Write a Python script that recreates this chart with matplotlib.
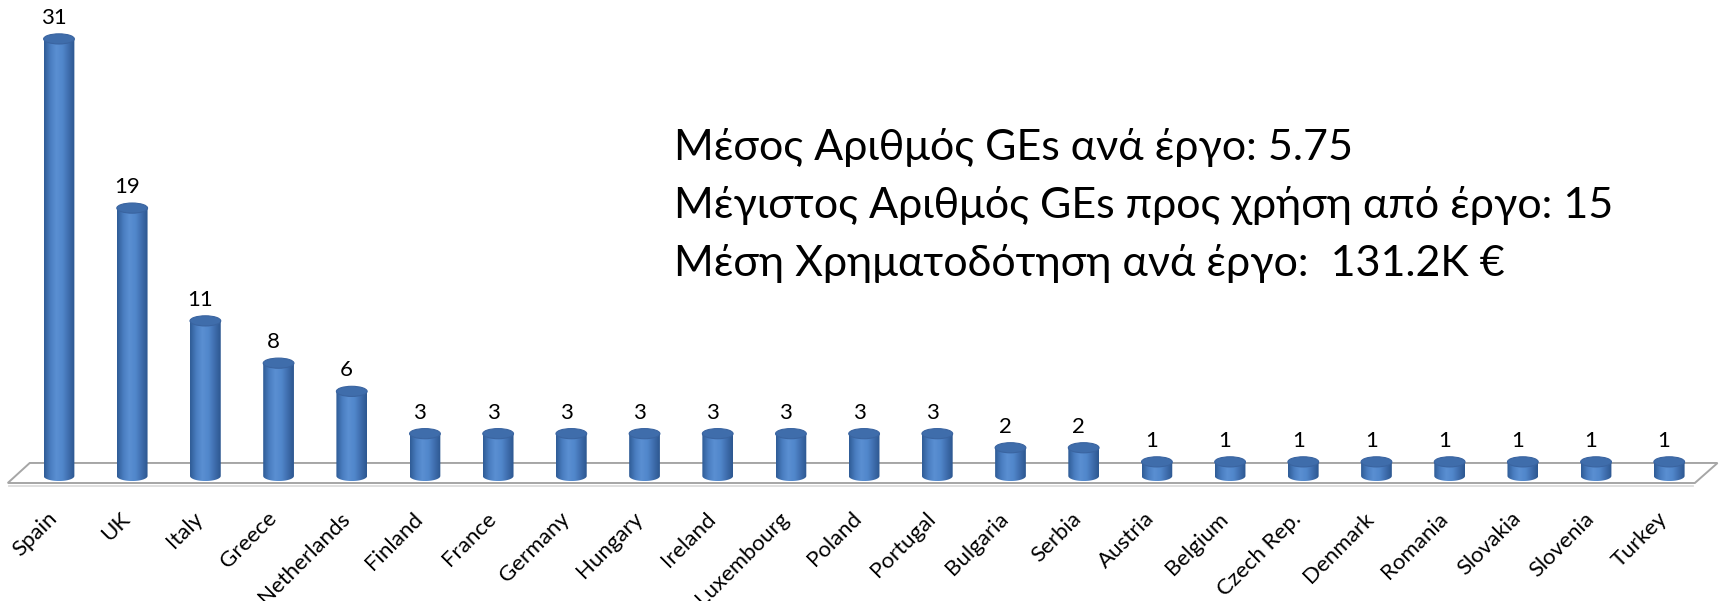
import numpy as np
import matplotlib.pyplot as plt
from matplotlib.patches import Ellipse, Polygon
from matplotlib.path import Path
from matplotlib.colors import LinearSegmentedColormap

countries = ['Spain', 'UK', 'Italy', 'Greece', 'Netherlands', 'Finland', 'France',
             'Germany', 'Hungary', 'Ireland', 'Luxembourg', 'Poland', 'Portugal',
             'Bulgaria', 'Serbia', 'Austria', 'Belgium', 'Czech Rep.', 'Denmark',
             'Romania', 'Slovakia', 'Slovenia', 'Turkey']
counts = [31, 19, 11, 8, 6, 3, 3, 3, 3, 3, 3, 3, 3, 2, 2, 1, 1, 1, 1, 1, 1, 1, 1]

info_lines = ['Μέσος Αριθμός GEs ανά έργο: 5.75',
              'Μέγιστος Αριθμός GEs προς χρήση από έργο: 15',
              'Μέση Χρηματοδότηση ανά έργο:  131.2K €']

plt.rcParams['font.family'] = ['Lato', 'Noto Sans', 'DejaVu Sans']

fig = plt.figure(figsize=(17.19, 6.01), dpi=100)
ax = fig.add_axes([0, 0, 1, 1])
ax.set_xlim(-0.806, 22.68)
ax.set_ylim(-8.87, 33.76)
ax.axis('off')

n = len(countries)
w = 0.42      # cylinder width (category units)
eh = 0.72     # ellipse height (value units)

# floor of the 3d plot
floor = Polygon([(-0.70, -0.5), (n - 0.65, -0.5), (n - 0.34, 0.92), (-0.40, 0.92)],
                closed=True, facecolor='white', edgecolor='#a6a6a6', lw=1.4, zorder=1)
ax.add_patch(floor)
ax.plot([-0.68, n - 0.67], [-0.68, -0.68], color='#dcdcdc', lw=1.3, zorder=1)

body_cmap = LinearSegmentedColormap.from_list(
    'cyl', ['#2f5c96', '#4a7dc0', '#5a8fd2', '#5187cb', '#3f6eae', '#2d5790'])
grad = np.linspace(0, 1, 64).reshape(1, -1)

for i, v in enumerate(counts):
    x0, x1 = i - w / 2, i + w / 2
    t = np.linspace(np.pi, 2 * np.pi, 40)
    verts = [(x0, v), (x0, 0)] + [(i + w / 2 * np.cos(a), eh / 2 * np.sin(a)) for a in t] + [(x1, v), (x0, v)]
    clip = Path(verts, closed=True)
    im = ax.imshow(grad, cmap=body_cmap, extent=[x0, x1, -eh / 2, v],
                   aspect='auto', interpolation='bilinear', zorder=3)
    im.set_clip_path(clip, transform=ax.transData)
    ax.add_patch(Ellipse((i, v), w, eh, facecolor='#3f6dab', edgecolor='#3a64a0',
                         lw=0.8, zorder=4))
    ax.text(i - 0.07, v + eh / 2 + 0.7, str(v), ha='center', va='baseline',
            fontsize=16, color='black', zorder=5)
    ax.text(i - 0.17, -2.3, countries[i], ha='right', va='top', rotation=45,
            rotation_mode='anchor', fontsize=16, color='black')

baselines = [160, 218, 276]
for line, yb in zip(info_lines, baselines):
    fig.text(674 / 1719, 1 - yb / 601, line, ha='left', va='baseline',
             fontsize=31, color='black')

fig.savefig('out.png', dpi=100)
